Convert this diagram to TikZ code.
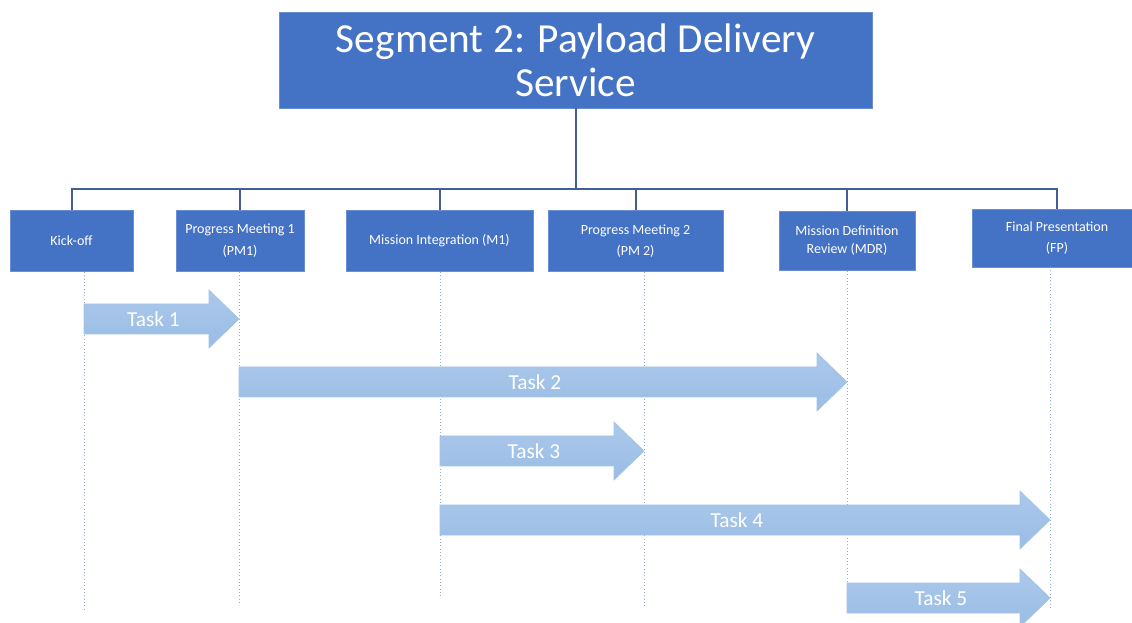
\documentclass[tikz,border=0pt]{standalone}
\usepackage{fontspec}
\setmainfont{Carlito}
\definecolor{Seg_blue}{RGB}{68,114,196}
\definecolor{Seg_edge}{RGB}{105,142,210}
\definecolor{Link_line}{RGB}{66,94,148}
\definecolor{Guide_line}{RGB}{143,170,220}
\definecolor{Task_top}{RGB}{171,200,235}
\definecolor{Task_bot}{RGB}{154,189,228}
\definecolor{Task_edge}{RGB}{162,196,233}

\begin{document}
\begin{tikzpicture}[x=0.75pt, y=-0.75pt,
    milestone/.style={draw=Seg_edge, line width=0.6pt, fill=Seg_blue, text=white,
        align=center, inner sep=2pt, font=\fontsize{10.5}{16}\selectfont},
    link/.style={draw=Link_line, line width=1.5pt},
    guide/.style={draw=Guide_line, line width=0.5pt, dotted},
    task/.style={draw=Task_edge, line width=0.5pt, top color=Task_top, bottom color=Task_bot},
    tasklabel/.style={text=white, font=\fontsize{16}{19}\selectfont}]
    \useasboundingbox (0,0) rectangle (1132,623);

    %% Segment header
    \node[milestone, minimum width=444.75pt, minimum height=72pt,
        font=\fontsize{31}{33}\selectfont] (segment) at (575.5,60)
        {Segment 2: Payload Delivery\\Service};

    %% Milestones
    \node[milestone, minimum width=92.25pt, minimum height=45.75pt] (kickoff) at (71.5,240.5) {Kick-off};
    \node[milestone, minimum width=96pt, minimum height=45.75pt] (pmone) at (240,240.5) {Progress Meeting 1\\(PM1)};
    \node[milestone, minimum width=140.25pt, minimum height=45.75pt] (mione) at (439.5,240.5) {Mission Integration (M1)};
    \node[milestone, minimum width=131.25pt, minimum height=45.75pt] (pmtwo) at (635.5,241) {Progress Meeting 2\\(PM 2)};
    \node[milestone, minimum width=102pt, minimum height=44.25pt,
        font=\fontsize{10.5}{13}\selectfont] (mdr) at (847,240.5) {Mission Definition\\Review (MDR)};
    \node[milestone, minimum width=127.5pt, minimum height=43.5pt] (fp) at (1057,238) {Final Presentation\\(FP)};

    %% Tree links
    \foreach \m in {kickoff,pmone,mione,pmtwo,mdr,fp}
        \draw[link] (segment.south) -- ++(0,81) -| (\m.north);

    %% Time guides
    \draw[guide] (84,272) -- (84,611);
    \draw[guide] (239,272) -- (239,605);
    \draw[guide] (440,272) -- (440,598);
    \draw[guide] (644,272) -- (644,606);
    \draw[guide] (847,271) -- (847,600);
    \draw[guide] (1050,267) -- (1050,610);

    %% Tasks
    \draw[task] (84,304) -- (209,304) -- (209,290) -- (239,319) -- (209,348) -- (209,334) -- (84,334) -- cycle;
    \node[tasklabel] (task1) at (153.5,319) {Task 1};

    \draw[task] (239,367) -- (817,367) -- (817,353) -- (847,382) -- (817,411) -- (817,397) -- (239,397) -- cycle;
    \node[tasklabel] (task2) at (535,382) {Task 2};

    \draw[task] (440,436) -- (614,436) -- (614,422) -- (644,451) -- (614,480) -- (614,466) -- (440,466) -- cycle;
    \node[tasklabel] (task3) at (534,451) {Task 3};

    \draw[task] (440,505) -- (1020,505) -- (1020,491) -- (1050,520) -- (1020,549) -- (1020,535) -- (440,535) -- cycle;
    \node[tasklabel] (task4) at (737,520) {Task 4};

    \draw[task] (847,583) -- (1020,583) -- (1020,569) -- (1050,598) -- (1020,627) -- (1020,613) -- (847,613) -- cycle;
    \node[tasklabel] (task5) at (941,598) {Task 5};

\end{tikzpicture}
\end{document}
